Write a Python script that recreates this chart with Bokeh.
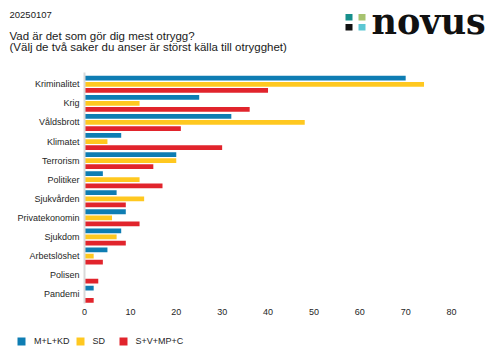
from bokeh.plotting import figure
from bokeh.models import (Range1d, FixedTicker, Label, Legend, LegendItem, LinearAxis,
                          ColumnDataSource)
from bokeh.transform import dodge
from bokeh.embed import file_html
from bokeh.resources import INLINE

date_text = "20250107"
title_line1 = "Vad är det som gör dig mest otrygg?"
title_line2 = "(Välj de två saker du anser är störst källa till otrygghet)"
logo_text = "novus"

categories = ["Kriminalitet", "Krig", "Våldsbrott", "Klimatet", "Terrorism",
              "Politiker", "Sjukvården", "Privatekonomin", "Sjukdom",
              "Arbetslöshet", "Polisen", "Pandemi"]
series_names = ["M+L+KD", "SD", "S+V+MP+C"]
ml_kd = [70, 25, 32, 8, 20, 4, 7, 9, 8, 5, 0, 2]
sd = [74, 12, 48, 5, 20, 12, 13, 6, 7, 2, 0, 0]
s_v_mp_c = [40, 36, 21, 30, 15, 17, 9, 12, 9, 4, 3, 2]
x_ticks = [0, 10, 20, 30, 40, 50, 60, 70, 80]

colors = ["#0e7db3", "#ffc820", "#e1242c"]
logo_colors = ["#178f8c", "#a7c36f", "#111111", "#5cc7d3"]
FONT = "Liberation Sans"
W, H = 493, 362

# page layout: value 0 sits at pixel column 84, 390 px per 85 units;
# first category centre at pixel row 83.8, 19.08 px per category
X0, SX = 84.0, 390.0 / 85.0
Y0, SY = 83.8, 19.08


def xd(px):
    return (px - X0) / SX


def yd(py):
    return (py - Y0) / SY


p = figure(width=W, height=H, x_range=Range1d(xd(0), xd(W)), y_range=Range1d(yd(H), yd(0)),
           output_backend="svg", toolbar_location=None, x_axis_type=None, y_axis_type=None,
           min_border=0)
p.outline_line_color = None
p.background_fill_color = "white"

idx = list(range(len(categories)))
src = ColumnDataSource(dict(idx=idx, cat=categories, a=ml_kd, b=sd, c=s_v_mp_c))

renderers = []
for col, off, c in zip(["a", "b", "c"], [-0.32, 0.0, 0.32], colors):
    r = p.hbar(y=dodge("idx", off, range=p.y_range), left=0, right=col, height=0.25,
               source=src, fill_color=c, line_color=None)
    renderers.append(r)

xa = LinearAxis(fixed_location=yd(305), ticker=FixedTicker(ticks=x_ticks))
xa.axis_line_color = None
xa.major_tick_line_color = None
xa.minor_tick_line_color = None
xa.major_tick_out = 0
xa.major_tick_in = 0
xa.major_label_text_font = FONT
xa.major_label_text_font_size = "9px"
xa.major_label_text_color = "#262626"
xa.major_label_standoff = 3
p.add_layout(xa, "below")

ya = LinearAxis(fixed_location=0, ticker=FixedTicker(ticks=idx), bounds=(yd(72), yd(303)))
ya.major_label_overrides = {i: c for i, c in zip(idx, categories)}
ya.axis_line_color = "#d9d9d9"
ya.axis_line_width = 2
ya.major_tick_line_color = None
ya.minor_tick_line_color = None
ya.major_tick_out = 0
ya.major_tick_in = 0
ya.major_label_text_font = FONT
ya.major_label_text_font_size = "9px"
ya.major_label_text_color = "#262626"
ya.major_label_standoff = 5
p.add_layout(ya, "left")

# header texts
for txt, px, py, size in [(date_text, 9, 14.8, "9.5px"),
                          (title_line1, 9, 35.0, "11.5px"),
                          (title_line2, 9, 46.7, "11.5px")]:
    p.add_layout(Label(x=xd(px), y=yd(py), text=txt, text_font=FONT, text_font_size=size,
                       text_color="#1a1a1a", text_baseline="alphabetic"))

# logo
p.add_layout(Label(x=xd(371), y=yd(21), text=logo_text, text_font="DejaVu Serif",
                   text_font_style="bold", text_font_size="35px", text_color="#111111",
                   text_baseline="alphabetic"))
p.quad(left=[xd(345), xd(358), xd(345), xd(358)], right=[xd(352), xd(365), xd(352), xd(365)],
       top=[yd(13.5), yd(13.5), yd(23.5), yd(23.5)], bottom=[yd(20), yd(20), yd(30), yd(30)],
       fill_color=logo_colors, line_color=None)

legend = Legend(items=[LegendItem(label=n, renderers=[r]) for n, r in zip(series_names, renderers)],
                orientation="horizontal", location=(16, 16),
                padding=0, margin=0, spacing=5, label_standoff=8,
                glyph_width=10, glyph_height=10, label_height=10,
                border_line_alpha=0, background_fill_alpha=0,
                label_text_font=FONT, label_text_font_size="9px", label_text_color="#262626")
p.add_layout(legend)

open("out.html", "w").write(file_html(p, INLINE))
